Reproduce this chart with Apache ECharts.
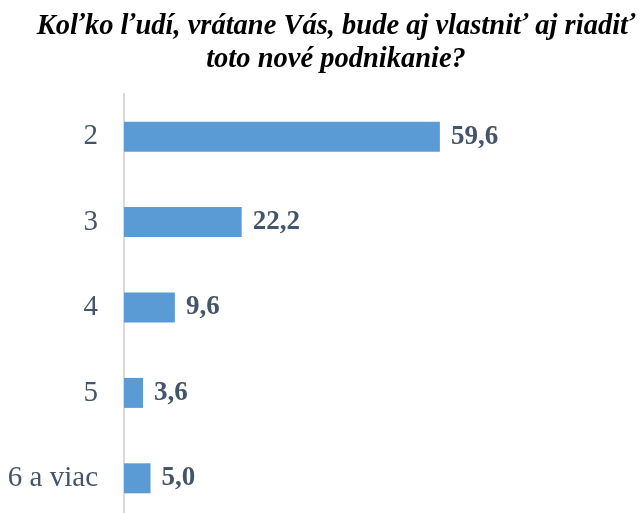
<!DOCTYPE html>
<html>
<head>
<meta charset="utf-8">
<script src="https://cdn.jsdelivr.net/npm/echarts@6/dist/echarts.min.js"></script>
<style>
html, body { margin: 0; padding: 0; background: #fff; }
#main { width: 640px; height: 513px; }
</style>
</head>
<body>
<div id="main"></div>
<script>
// kategórie a hodnoty (%)
var categories = ['2', '3', '4', '5', '6 a viac'];
var values = [59.6, 22.2, 9.6, 3.6, 5.0];

var chart = echarts.init(document.getElementById('main'));

var option = {
    backgroundColor: '#ffffff',
    animation: false,
    title: {
        text: 'Koľko ľudí, vrátane Vás, bude aj vlastniť aj riadiť\ntoto nové podnikanie?',
        left: 331,
        top: 5,
        textAlign: 'center',
        textStyle: {
            fontFamily: 'Liberation Serif',
            fontSize: 28.5,
            fontWeight: 'bold',
            fontStyle: 'italic',
            color: '#000000',
            lineHeight: 33
        }
    },
    grid: {
        left: 124,
        top: 94,
        width: 477,
        height: 427,
        containLabel: false,
        outerBoundsMode: 'none'
    },
    xAxis: {
        type: 'value',
        min: 0,
        max: 90,
        show: false
    },
    yAxis: {
        type: 'category',
        inverse: true,
        data: categories,
        axisLine: { show: true, lineStyle: { color: '#D9D9D9', width: 2 } },
        axisTick: { show: false },
        axisLabel: {
            margin: 26,
            fontFamily: 'Liberation Serif',
            fontSize: 29,
            color: '#44546A'
        }
    },
    series: [
        {
            type: 'bar',
            data: values,
            barWidth: 30,
            itemStyle: { color: '#5B9BD5' },
            label: {
                show: true,
                position: 'right',
                distance: 11,
                fontFamily: 'Liberation Serif',
                fontSize: 27,
                fontWeight: 'bold',
                color: '#44546A',
                formatter: function (p) {
                    return p.value.toFixed(1).replace('.', ',');
                }
            }
        }
    ]
};

chart.setOption(option);
</script>
</body>
</html>
